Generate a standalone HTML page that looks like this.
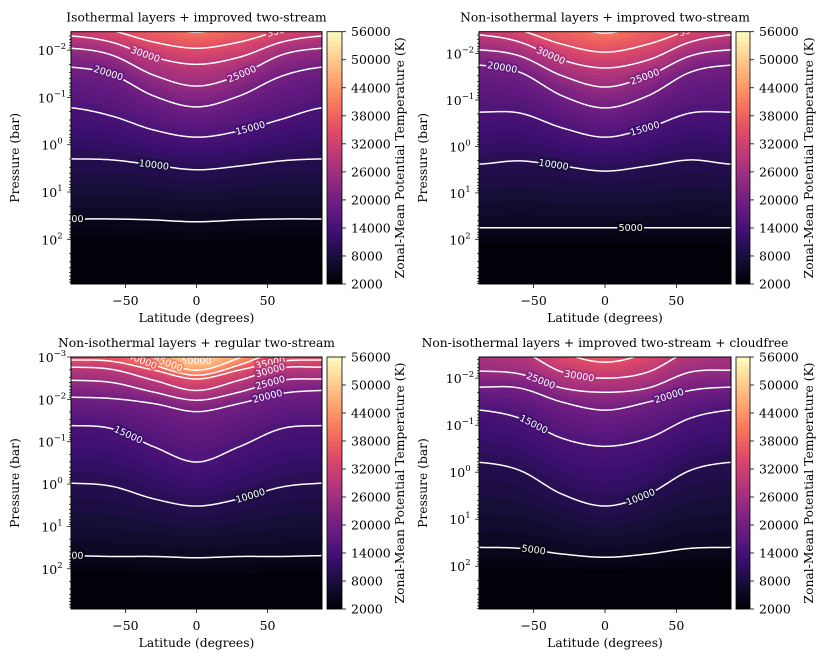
<!DOCTYPE html>
<html><head><meta charset="utf-8">
<style>
html,body{margin:0;padding:0;background:#fff;}
svg{display:block;font-family:"DejaVu Serif","Liberation Serif",serif;}
</style></head>
<body>
<svg id="fig" width="830" height="664" viewBox="0 0 830 664" xmlns="http://www.w3.org/2000/svg"></svg>
<script>
// ---- data ----
const LATS = [-88,-60,-30,0,30,60,88];
const cbTicks = [2000,8000,14000,20000,26000,32000,38000,44000,50000,56000];
const xTicks = [-50,0,50];

const tlLevels = [3000,5000,10000,15000,20000,25000,30000,35000,40000];
const tlLogP = [
 [1.97,1.97,1.99,2.01,1.99,1.97,1.97],
 [1.57,1.57,1.59,1.63,1.59,1.57,1.57],
 [0.30,0.32,0.43,0.53,0.45,0.34,0.30],
 [-0.78,-0.61,-0.31,-0.16,-0.29,-0.54,-0.78],
 [-1.64,-1.49,-1.03,-0.80,-1.03,-1.45,-1.64],
 [-2.04,-1.90,-1.47,-1.24,-1.47,-1.90,-2.04],
 [-2.30,-2.17,-1.85,-1.70,-1.85,-2.17,-2.30],
 [-2.59,-2.42,-2.17,-2.04,-2.17,-2.42,-2.59],
 [-3.06,-2.95,-2.59,-2.38,-2.59,-2.95,-3.06]
];
const tlLabels = [[35000,60],[30000,-36],[25000,32],[20000,-62],[15000,38],[10000,-30],[5000,-88]];

const trLevels = [3000,5000,10000,15000,20000,25000,30000,35000,40000];
const trLogP = [
 [2.10,2.10,2.10,2.10,2.10,2.10,2.10],
 [1.75,1.75,1.75,1.75,1.75,1.75,1.75],
 [0.38,0.31,0.42,0.53,0.42,0.29,0.38],
 [-0.74,-0.72,-0.40,-0.20,-0.40,-0.72,-0.74],
 [-1.75,-1.60,-1.09,-0.83,-1.09,-1.60,-1.75],
 [-2.08,-1.95,-1.52,-1.28,-1.52,-1.95,-2.08],
 [-2.40,-2.25,-1.86,-1.69,-1.86,-2.25,-2.40],
 [-2.72,-2.51,-2.20,-2.03,-2.20,-2.51,-2.72],
 [-3.15,-3.04,-2.68,-2.44,-2.68,-3.04,-3.15]
];
const trLabels = [[35000,62],[30000,-38],[25000,28],[20000,-72],[15000,28],[10000,-36],[5000,18]];

const blLevels = [3000,5000,10000,15000,20000,25000,30000,35000,40000,45000,50000,55000];
const blLogP = [
 [2.07,2.07,2.10,2.12,2.10,2.07,2.07],
 [1.69,1.71,1.71,1.74,1.71,1.71,1.69],
 [-0.02,0.05,0.35,0.52,0.35,0.07,-0.02],
 [-1.38,-1.31,-0.88,-0.52,-0.88,-1.31,-1.38],
 [-2.05,-2.02,-1.90,-1.71,-1.90,-2.14,-2.21],
 [-2.45,-2.40,-2.17,-1.98,-2.17,-2.45,-2.48],
 [-2.76,-2.71,-2.45,-2.21,-2.45,-2.74,-2.76],
 [-2.93,-2.90,-2.69,-2.48,-2.69,-2.90,-2.93],
 [-3.21,-3.17,-2.81,-2.57,-2.81,-3.17,-3.21],
 [-3.57,-3.45,-2.98,-2.69,-2.98,-3.45,-3.57],
 [-3.93,-3.81,-3.33,-2.90,-3.33,-3.81,-3.93],
 [-4.45,-4.45,-3.93,-3.21,-3.93,-4.45,-4.45]
];
const blLabels = [[50000,0],[45000,-20],[40000,-38],[35000,52],[30000,52],[25000,52],[20000,50],[15000,-48],[10000,38],[5000,-88]];

const brLevels = [3000,5000,10000,15000,20000,25000,30000,35000,40000];
const brLogP = [
 [2.02,2.02,2.04,2.06,2.04,2.02,2.02],
 [1.60,1.62,1.74,1.81,1.74,1.62,1.60],
 [-0.21,-0.04,0.47,0.72,0.47,-0.04,-0.21],
 [-1.32,-1.15,-0.72,-0.55,-0.72,-1.15,-1.32],
 [-1.81,-1.79,-1.49,-1.32,-1.49,-1.74,-1.81],
 [-2.15,-2.09,-1.79,-1.70,-1.79,-2.13,-2.17],
 [-2.81,-2.60,-2.13,-2.00,-2.13,-2.60,-2.81],
 [-3.23,-3.02,-2.55,-2.34,-2.55,-3.02,-3.23],
 [-3.66,-3.45,-3.02,-2.70,-3.02,-3.45,-3.66]
];
const brLabels = [[30000,-18],[25000,-45],[20000,45],[15000,-50],[10000,25],[5000,-50]];

// ---- layout ----
const panels = [
 {key:'top-left', title:'Isothermal layers + improved two-stream', x0:71,x1:322,y0:31.7,y1:284,top:-2.39,bot:2.945,cbx:327,cbw:15,levels:tlLevels,logp:tlLogP,labels:tlLabels,yt:[-2,-1,0,1,2]},
 {key:'top-right', title:'Non-isothermal layers + improved two-stream', x0:479,x1:731,y0:31.7,y1:284,top:-2.47,bot:2.96,cbx:736,cbw:14,levels:trLevels,logp:trLogP,labels:trLabels,yt:[-2,-1,0,1,2]},
 {key:'bottom-left', title:'Non-isothermal layers + regular two-stream', x0:71,x1:322,y0:357,y1:609,top:-3.0,bot:2.95,cbx:327,cbw:15,levels:blLevels,logp:blLogP,labels:blLabels,yt:[-3,-2,-1,0,1,2]},
 {key:'bottom-right', title:'Non-isothermal layers + improved two-stream + cloudfree', x0:479,x1:731,y0:357,y1:609,top:-2.45,bot:2.91,cbx:736,cbw:14,levels:brLevels,logp:brLogP,labels:brLabels,yt:[-2,-1,0,1,2]}
];

const MAG = [[0,0,4],[20,14,54],[59,15,112],[100,26,128],[140,41,129],[183,55,121],[222,73,104],[247,112,92],[254,159,109],[254,207,146],[252,253,191]];
function magma(t){
  t=Math.max(0,Math.min(1,t));
  const f=t*10, i=Math.min(9,Math.floor(f)), r=f-i;
  const a=MAG[i], b=MAG[i+1];
  return 'rgb('+a.map((v,k)=>Math.round(v+(b[k]-v)*r)).join(',')+')';
}
function bandColor(L){ return magma((L+500-2000)/54000); }

const NS='http://www.w3.org/2000/svg';
const svg=document.getElementById('fig');
function add(parent, tag, attrs, name, text){
  const el=document.createElementNS(NS,tag);
  for(const k in attrs) el.setAttribute(k, attrs[k]);
  
  
  if(text!==undefined) el.textContent=text;
  parent.appendChild(el);
  return el;
}
function cr(vals, lat){
  let i=0; while(i<LATS.length-2 && lat>LATS[i+1]) i++;
  const t=(lat-LATS[i])/(LATS[i+1]-LATS[i]);
  const p0=vals[Math.max(0,i-1)], p1=vals[i], p2=vals[i+1], p3=vals[Math.min(LATS.length-1,i+2)];
  const t2=t*t,t3=t2*t;
  return 0.5*((2*p1)+(-p0+p2)*t+(2*p0-5*p1+4*p2-p3)*t2+(-p0+3*p1-3*p2+p3)*t3);
}

const NC=120, LATMIN=-88.3, LATMAX=88.3;
panels.forEach((P,pi)=>{
  const g=add(svg,'g',{},'panel-'+P.key);
  const xS=lat=>P.x0+(lat-LATMIN)/(LATMAX-LATMIN)*(P.x1-P.x0);
  const yS=lp=>P.y0+(lp-P.top)/(P.bot-P.top)*(P.y1-P.y0);
  const clipId='clip'+pi;
  const defs=add(g,'defs',{},'defs');
  const cp=add(defs,'clipPath',{id:clipId},'clip');
  add(cp,'rect',{x:P.x0,y:P.y0,width:P.x1-P.x0,height:P.y1-P.y0},'clip-rect');
  const plot=add(g,'g',{'clip-path':'url(#'+clipId+')'},'contour-plot');
  const cols=[];
  for(let c=0;c<=NC;c++){
    const lat=LATMIN+(LATMAX-LATMIN)*c/NC;
    const pts=[[2000,P.bot+0.6]];
    P.levels.forEach((L,k)=>pts.push([L,cr(P.logp[k],lat)]));
    const n=pts.length, a=pts[n-2], b=pts[n-1];
    const slope=(b[1]-a[1])/(b[0]-a[0]);
    if(b[0]<56000) pts.push([56000,b[1]+slope*(56000-b[0])]);
    cols.push({lat,pts});
  }
  function lpAt(col,T){
    const p=col.pts;
    for(let i=0;i<p.length-1;i++){
      if(T>=p[i][0]&&T<=p[i+1][0]){const r=(T-p[i][0])/(p[i+1][0]-p[i][0]);return p[i][1]+(p[i+1][1]-p[i][1])*r;}
    }
    return p[p.length-1][1];
  }
  add(plot,'rect',{x:P.x0,y:P.y0,width:P.x1-P.x0,height:P.y1-P.y0,fill:bandColor(2000)},'band-base');
  for(let L=3000;L<56000;L+=1000){
    let d='M'+P.x0+','+(P.y0-50);
    cols.forEach(col=>{d+=' L'+xS(col.lat).toFixed(2)+','+yS(lpAt(col,L)).toFixed(2);});
    d+=' L'+P.x1+','+(P.y0-50)+' Z';
    add(plot,'path',{d:d,fill:bandColor(L),stroke:bandColor(L),'stroke-width':0.4},'band-'+L);
  }
  P.levels.forEach((L,k)=>{
    if(L%5000) return;
    let d='';
    cols.forEach((col,c)=>{d+=(c?' L':'M')+xS(col.lat).toFixed(2)+','+yS(cr(P.logp[k],col.lat)).toFixed(2);});
    add(plot,'path',{d:d,fill:'none',stroke:'#fff','stroke-width':1.5},'contour-line-'+L);
  });
  P.labels.forEach(([L,lat])=>{
    const k=P.levels.indexOf(L);
    const la=Math.max(LATMIN,lat-3), lb=Math.min(LATMAX,lat+3);
    const xa=xS(la),ya=yS(cr(P.logp[k],la)),xb=xS(lb),yb=yS(cr(P.logp[k],lb));
    const x=xS(lat), y=yS(cr(P.logp[k],lat));
    const ang=Math.atan2(yb-ya,xb-xa)*180/Math.PI;
    add(plot,'text',{x:x,y:y+3,'font-size':9.5,'font-family':'DejaVu Sans, Liberation Sans, sans-serif',fill:'#fff','text-anchor':'middle',stroke:bandColor(L-2500),'stroke-width':4,'paint-order':'stroke',transform:'rotate('+ang.toFixed(1)+' '+x+' '+y+')'},'contour-label-'+L,String(L));
  });
  add(g,'rect',{x:P.x0,y:P.y0,width:P.x1-P.x0,height:P.y1-P.y0,fill:'none',stroke:'#000','stroke-width':1},'plot-frame');
  xTicks.forEach(v=>{
    const x=xS(v);
    add(g,'line',{x1:x,x2:x,y1:P.y1,y2:P.y1+4,stroke:'#000','stroke-width':0.8},'x-tick');
    add(g,'text',{x:x,y:P.y1+21,'font-size':12.5,'text-anchor':'middle',fill:'#000'},'x-tick-label',v<0?'\u2212'+(-v):String(v));
  });
  add(g,'text',{x:(P.x0+P.x1)/2,y:P.y1+38,'font-size':12.3,'text-anchor':'middle',fill:'#000'},'x-axis-title','Latitude (degrees)');
  for(let e=Math.floor(P.top);e<=Math.ceil(P.bot);e++){
    for(let m=1;m<10;m++){
      const lp=e+Math.log10(m);
      if(lp<P.top-1e-6||lp>P.bot+1e-6) continue;
      const y=yS(lp);
      add(g,'line',{x1:P.x0,x2:P.x0-(m===1?4:2),y1:y,y2:y,stroke:'#000','stroke-width':0.7},m===1?'y-tick':'y-minor-tick');
    }
  }
  P.yt.forEach(e=>{
    const y=yS(e);
    const t=add(g,'text',{x:P.x0-19,y:y+5,'font-size':12.5,'text-anchor':'middle',fill:'#000'},'y-tick-label','10');
    add(t,'tspan',{dy:-6,'font-size':8.5},'y-tick-exponent',e<0?'\u2212'+(-e):String(e));
  });
  const ymid=(P.y0+P.y1)/2;
  add(g,'text',{x:P.x0-52,y:ymid,'font-size':12.3,'text-anchor':'middle',fill:'#000',transform:'rotate(-90 '+(P.x0-52)+' '+ymid+')'},'y-axis-title','Pressure (bar)');
  add(g,'text',{x:(P.x0+P.x1)/2,y:P.y0-10,'font-size':12.3,'text-anchor':'middle',fill:'#000'},'panel-title',P.title);
  const cb=add(g,'g',{},'colorbar');
  const cs=T=>P.y1-(T-2000)/54000*(P.y1-P.y0);
  for(let L=2000;L<56000;L+=1000){
    add(cb,'rect',{x:P.cbx,y:cs(L+1000)-0.3,width:P.cbw,height:(P.y1-P.y0)/54+0.6,fill:bandColor(L)},'colorbar-band');
  }
  add(cb,'rect',{x:P.cbx,y:P.y0,width:P.cbw,height:P.y1-P.y0,fill:'none',stroke:'#000','stroke-width':0.8},'colorbar-frame');
  cbTicks.forEach(T=>{
    const y=cs(T);
    add(cb,'line',{x1:P.cbx+P.cbw,x2:P.cbx+P.cbw+4,y1:y,y2:y,stroke:'#000','stroke-width':0.8},'colorbar-tick');
    add(cb,'text',{x:P.cbx+P.cbw+9,y:y+4.5,'font-size':12.5,fill:'#000'},'colorbar-tick-label',String(T));
  });
  const cx=P.cbx+77;
  add(cb,'text',{x:cx,y:ymid,'font-size':12.3,'text-anchor':'middle',fill:'#000',transform:'rotate(-90 '+cx+' '+ymid+')'},'colorbar-title','Zonal-Mean Potential Temperature (K)');
});
</script>
</body></html>
